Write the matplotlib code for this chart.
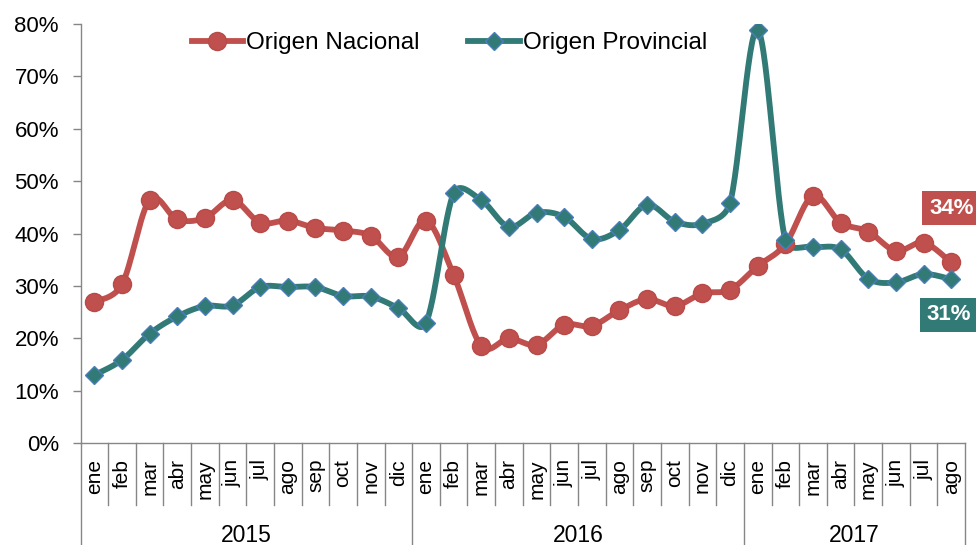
import numpy as np
import matplotlib
matplotlib.use("Agg")
import matplotlib.pyplot as plt
from matplotlib.ticker import FuncFormatter

plt.rcParams['font.family'] = ['Liberation Sans', 'DejaVu Sans']

# --- Data (share, %) ---
months = ["ene", "feb", "mar", "abr", "may", "jun", "jul", "ago", "sep", "oct", "nov", "dic",
          "ene", "feb", "mar", "abr", "may", "jun", "jul", "ago", "sep", "oct", "nov", "dic",
          "ene", "feb", "mar", "abr", "may", "jun", "jul", "ago"]
years = ["2015", "2016", "2017"]
year_lengths = [12, 12, 8]

nacional = [26.9, 30.3, 46.4, 42.7, 43.0, 46.4, 42.1, 42.5, 41.1, 40.6, 39.6, 35.6,
            42.5, 32.1, 18.6, 20.0, 18.8, 22.6, 22.4, 25.4, 27.5, 26.2, 28.6, 29.3,
            33.8, 38.0, 47.2, 42.1, 40.4, 36.7, 38.3, 34.5]
provincial = [13.0, 15.9, 20.9, 24.2, 26.2, 26.3, 29.8, 29.8, 29.8, 28.1, 28.0, 25.8,
              23.0, 47.7, 46.4, 41.3, 44.0, 43.2, 39.0, 40.7, 45.5, 42.3, 41.9, 45.9,
              78.9, 38.8, 37.5, 37.0, 31.4, 30.7, 32.3, 31.3]

red = "#C0504D"
teal = "#317A76"
gray = "#868686"

# pixel size of one category and of 1 % (so the smoothing works in screen space)
PX_X, PX_Y = 27.64, 5.24


def ctrl(base, tangent, seg_len):
    # catmull-rom handle, kept no longer than half of the segment
    h = tangent / 6
    n = np.hypot(*h)
    if n > 0.5 * seg_len and n > 0:
        h = h * (0.5 * seg_len / n)
    return base + h


def smooth(x, y, n=30):
    # bezier smoothing, like the spreadsheet "smoothed line"
    p = np.column_stack([np.asarray(x, float) * PX_X, np.asarray(y, float) * PX_Y])
    p = np.vstack([p[0], p, p[-1]])
    t = np.linspace(0, 1, n)[:, None]
    out = []
    for i in range(1, len(p) - 2):
        a, b = p[i], p[i + 1]
        d = np.hypot(*(b - a))
        c1 = ctrl(a, b - p[i - 1], d)
        c2 = ctrl(b, -(p[i + 2] - a), d)
        out.append((1 - t) ** 3 * a + 3 * (1 - t) ** 2 * t * c1 + 3 * (1 - t) * t ** 2 * c2 + t ** 3 * b)
    out = np.vstack(out)
    return out[:, 0] / PX_X, out[:, 1] / PX_Y


fig = plt.figure(figsize=(9.76, 5.45), dpi=100, facecolor='white')
ax = fig.add_axes([80.5 / 976, 1 - 443.3 / 545, (965 - 80.5) / 976, (443.3 - 24) / 545])

xpos = np.arange(len(months)) + 0.5
lw = 4.2
red_marker = dict(marker='o', ms=13, mfc=red, mec="#B84A47", mew=1)
teal_marker = dict(marker='D', ms=9, mfc=teal, mec="#4A7EBB", mew=1)

sx, sy = smooth(xpos, nacional)
ax.plot(sx, sy, color=red, lw=lw, solid_capstyle='round', zorder=2)
ax.plot(xpos, nacional, ls='none', zorder=3, **red_marker)
sx, sy = smooth(xpos, provincial)
ax.plot(sx, sy, color=teal, lw=lw, solid_capstyle='round', zorder=2)
ax.plot(xpos, provincial, ls='none', zorder=4, **teal_marker)

# legend handles
h1, = ax.plot([], [], color=red, lw=lw, **red_marker)
h2, = ax.plot([], [], color=teal, lw=lw, **teal_marker)
fig.legend([h1, h2], ["Origen Nacional", "Origen Provincial"], ncol=2, frameon=False,
           loc='center left', bbox_to_anchor=(191.7 / 976, 1 - 43.3 / 545),
           borderpad=0, borderaxespad=0, fontsize=17.5, handlelength=2.1,
           handletextpad=0.15, columnspacing=2.0, numpoints=1)

ax.set_xlim(0, len(months))
ax.set_ylim(0, 80)
ax.set_yticks(np.arange(0, 81, 10))
ax.yaxis.set_major_formatter(FuncFormatter(lambda v, p: f"{v:.0f}%"))
ax.tick_params(axis='y', length=6, width=1, color=gray, pad=9.5, labelsize=16)
ax.set_xticks([])
for s in ['top', 'right']:
    ax.spines[s].set_visible(False)
for s in ['left', 'bottom']:
    ax.spines[s].set_color(gray)
    ax.spines[s].set_linewidth(1)

# multi-level category axis
tr = ax.get_xaxis_transform()
month_depth = -(505 - 443.3) / 419.3
year_depth = -(546 - 443.3) / 419.3
bounds = np.cumsum([0] + year_lengths)
for k in range(len(months) + 1):
    depth = year_depth if k in bounds else month_depth
    ax.plot([k, k], [0, depth], transform=tr, color=gray, lw=1, clip_on=False)
for x, m in zip(xpos, months):
    ax.text(x, -(459 - 443.3) / 419.3, m, transform=tr, rotation=90,
            ha='center', va='top', fontsize=15)
for i, yr in enumerate(years):
    ax.text((bounds[i] + bounds[i + 1]) / 2, -(535 - 443.3) / 419.3, yr, transform=tr,
            ha='center', va='center', fontsize=16.5)

# end labels
ax.annotate(f"{nacional[-1]:.0f}%", (xpos[-1], nacional[-1]), xytext=(-16, 39),
            textcoords='offset points', ha='left', va='center', color='white',
            fontsize=16, fontweight='bold', annotation_clip=False,
            bbox=dict(boxstyle='square,pad=0.3', fc=red, ec='none'))
ax.annotate(f"{provincial[-1]:.0f}%", (xpos[-1], provincial[-1]), xytext=(-18, -25.7),
            textcoords='offset points', ha='left', va='center', color='white',
            fontsize=16, fontweight='bold', annotation_clip=False,
            bbox=dict(boxstyle='square,pad=0.3', fc=teal, ec='none'))

plt.savefig("out.png", dpi=100)
